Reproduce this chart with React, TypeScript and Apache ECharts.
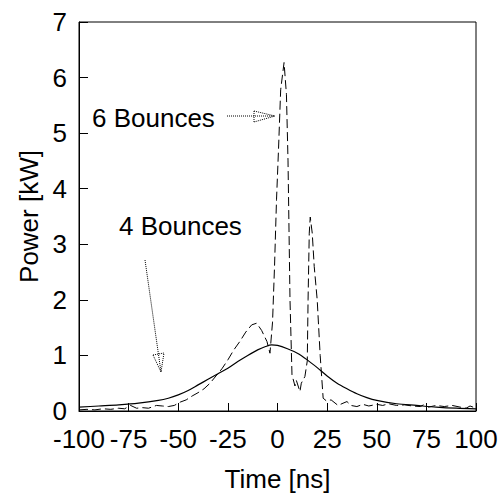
import React, { useEffect, useRef } from "react";
import * as echarts from "echarts";

const FONT = '"Liberation Sans", Arial, sans-serif';

const xTicks = { min: -100, max: 100, interval: 25 };
const yTicks = { min: 0, max: 7, interval: 1 };

// 4 Bounces (solid)
const fourTime = [-100, -90, -80, -70, -60, -55, -50, -45, -40, -35, -30, -25, -20, -15, -10, -6, -3, 0, 5, 10, 15, 20, 25, 30, 35, 40, 45, 50, 60, 70, 80, 90, 100];
const fourPower = [0.07, 0.09, 0.11, 0.14, 0.19, 0.23, 0.29, 0.37, 0.47, 0.57, 0.67, 0.77, 0.89, 1.0, 1.1, 1.16, 1.19, 1.18, 1.12, 1.04, 0.92, 0.78, 0.63, 0.5, 0.4, 0.31, 0.24, 0.19, 0.13, 0.1, 0.07, 0.05, 0.04];

// 6 Bounces (dashed)
const sixTime = [-100, -96, -92, -88, -84, -80, -77, -74, -71, -68, -65, -61, -58, -55, -52, -49, -46, -43, -40, -37, -34, -31, -28, -25, -22, -19, -16, -13, -10.5, -8, -5.3, -3.8, -2.5, -1.5, -0.5, 0.5, 1.6, 3.3, 4.5, 5.3, 6.3, 7.3, 8.8, 9.5, 11.3, 12, 13.8, 15, 15.4, 16, 16.5, 17.5, 18.5, 20, 21.5, 23, 24.7, 27, 30.5, 33, 35, 37, 40, 43, 46, 50, 53, 56, 60, 64, 68, 72, 74, 76, 80, 84, 88, 92, 95, 97, 100];
const sixPower = [0.02, 0.03, 0.02, 0.04, 0.03, 0.05, 0.04, 0.1, 0.05, 0.06, 0.05, 0.1, 0.09, 0.08, 0.1, 0.16, 0.2, 0.27, 0.33, 0.4, 0.5, 0.63, 0.76, 0.92, 1.1, 1.25, 1.42, 1.55, 1.58, 1.45, 1.25, 1.04, 1.6, 2.6, 3.8, 4.7, 5.78, 6.27, 5.7, 4.5, 2.0, 0.65, 0.45, 0.55, 0.35, 0.5, 0.62, 0.9, 2.0, 3.2, 3.49, 3.2, 2.6, 2.0, 1.0, 0.23, 0.18, 0.2, 0.1, 0.14, 0.17, 0.1, 0.08, 0.12, 0.09, 0.12, 0.1, 0.13, 0.1, 0.11, 0.09, 0.08, 0.12, 0.07, 0.1, 0.08, 0.1, 0.07, 0.05, 0.09, 0.05];

const labels = { six: "6 Bounces", four: "4 Bounces", xName: "Time [ns]", yName: "Power [kW]" };

export default function App() {
  const ref = useRef<HTMLDivElement>(null);
  useEffect(() => {
    if (!ref.current) return;
    const chart = echarts.init(ref.current, null, { renderer: "svg" });
    const dotted = { stroke: "#000", lineWidth: 1, lineDash: [1, 1], fill: null };
    chart.setOption({
      animation: false,
      backgroundColor: "#fff",
      grid: { left: 79, right: 26, top: 22, bottom: 84, show: true, borderColor: "#000", borderWidth: 1, backgroundColor: "transparent" },
      xAxis: {
        type: "value",
        min: xTicks.min,
        max: xTicks.max,
        interval: xTicks.interval,
        name: labels.xName,
        nameLocation: "middle",
        nameGap: 55,
        nameTextStyle: { fontFamily: FONT, fontSize: 26, color: "#000" },
        axisLine: { onZero: false, lineStyle: { color: "#000", width: 1 } },
        axisTick: { inside: true, length: 8, lineStyle: { color: "#000" } },
        axisLabel: { fontFamily: FONT, fontSize: 26, color: "#000", margin: 17, lineHeight: 22 },
        splitLine: { show: false },
      },
      yAxis: {
        type: "value",
        min: yTicks.min,
        max: yTicks.max,
        interval: yTicks.interval,
        name: labels.yName,
        nameLocation: "middle",
        nameGap: 36,
        nameTextStyle: { fontFamily: FONT, fontSize: 26, color: "#000" },
        axisLine: { onZero: false, lineStyle: { color: "#000", width: 1 } },
        axisTick: { inside: true, length: 9, lineStyle: { color: "#000" } },
        axisLabel: { fontFamily: FONT, fontSize: 26, color: "#000", margin: 12, lineHeight: 20 },
        splitLine: { show: false },
      },
      series: [
        {
          type: "line",
          name: labels.four,
          data: fourTime.map((t, i) => [t, fourPower[i]]),
          showSymbol: false,
          smooth: 0.3,
          lineStyle: { color: "#000", width: 1.2 },
        },
        {
          type: "line",
          name: labels.six,
          data: sixTime.map((t, i) => [t, sixPower[i]]),
          showSymbol: false,
          lineStyle: { color: "#000", width: 1, type: [9, 4] },
        },
      ],
      graphic: [
        { type: "text", x: 92, y: 118, style: { text: labels.six, fontFamily: FONT, fontSize: 26, fill: "#000", verticalAlign: "middle" } },
        { type: "text", x: 119, y: 226, style: { text: labels.four, fontFamily: FONT, fontSize: 26, fill: "#000", verticalAlign: "middle" } },
        { type: "line", shape: { x1: 227, y1: 116, x2: 274, y2: 116 }, style: dotted },
        { type: "polyline", shape: { points: [[254, 111], [275, 116], [254, 122]] }, style: dotted },
        { type: "line", shape: { x1: 254, y1: 111, x2: 254, y2: 122 }, style: dotted },
        { type: "line", shape: { x1: 145, y1: 260, x2: 161, y2: 372 }, style: dotted },
        { type: "polyline", shape: { points: [[153, 355], [161, 372], [164, 353]] }, style: dotted },
        { type: "line", shape: { x1: 153, y1: 355, x2: 164, y2: 353 }, style: dotted },
      ],
    });
    return () => chart.dispose();
  }, []);
  return <div ref={ref} style={{ position: "fixed", left: 0, top: 0, width: 502, height: 497, background: "#fff" }} />;
}
